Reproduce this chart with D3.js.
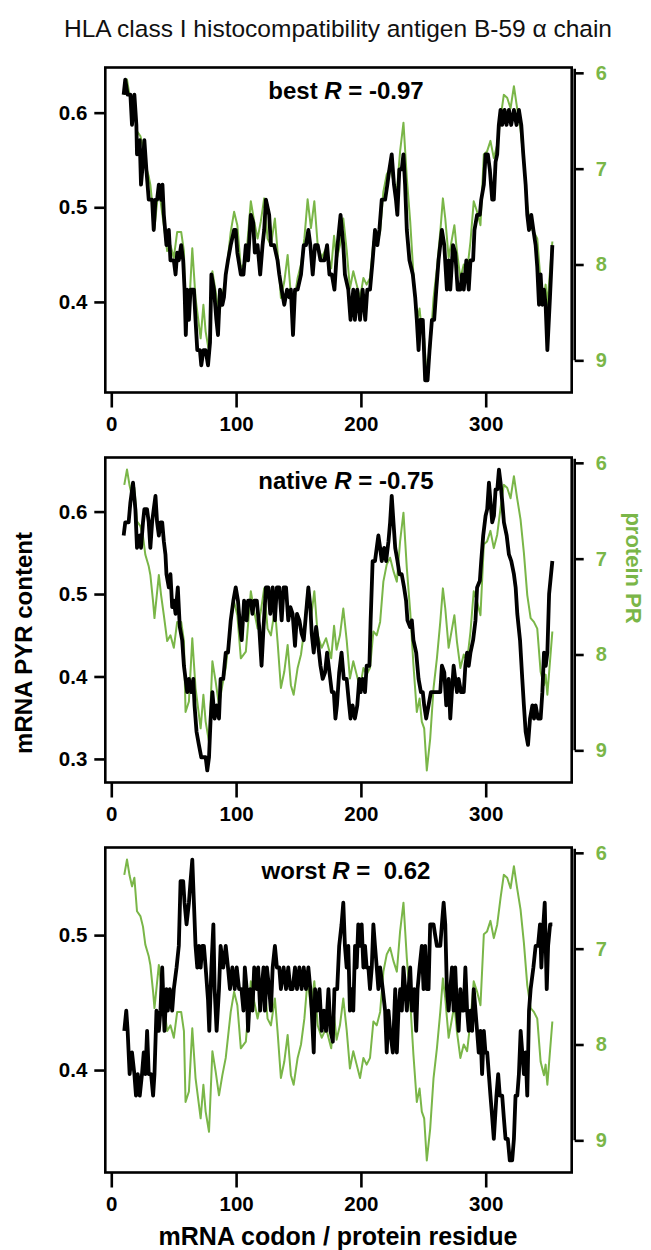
<!DOCTYPE html>
<html><head><meta charset="utf-8">
<script src="https://cdn.jsdelivr.net/npm/d3@7"></script>
<style>body{margin:0;background:#fff}svg{display:block}</style>
</head><body><svg id="chart" width="651" height="1250"></svg>
<script>
// ---------------- data ----------------
const title = "HLA class I histocompatibility antigen B-59 \u03b1 chain";
const xTicks = [0, 100, 200, 300];
const prTicks = [6, 7, 8, 9];
const panelNames = ["best", "native", "worst"];
const panelR = ["-0.97", "-0.75", " 0.62"];
const pyrTicks = [[0.4, 0.5, 0.6], [0.3, 0.4, 0.5, 0.6], [0.4, 0.5]];
const xDomain = [-4.8, 368.9];

// protein PR (same in all panels)
const protRes = [10.4,12.6,14.7,16.6,18.5,20.6,23.3,25.4,27.3,30,31.3,33.5,34.6,38.1,39.9,42.1,44.8,47.4,50.1,52.8,56,58.2,59.5,62.2,64.9,67.5,71.6,73.8,75.6,78.3,81,83.6,86.3,89,91.7,95.7,98.4,101,103.8,107.8,111.8,114.5,117.2,119.8,122.5,125.2,127.9,131.1,133.2,135.9,138.6,141.3,143.9,146.1,149.3,152,154.7,157.3,160,162.7,165.4,168.6,172.1,176.2,178.5,180.5,183.2,185.9,188.6,191.2,193.9,196.6,199.3,202,204.6,207.3,210,212.7,215.4,218,220.7,223.4,226.1,228.8,231.4,234.1,236.8,239.5,242.1,244.8,247,248.8,250.7,252.8,255.5,258.2,260.9,263.6,265.7,267.6,270.3,273,274.9,277,279.7,282.4,285.1,287.8,290.4,293.1,295.8,298.5,301.1,303.8,306.5,309.2,311.9,314.5,317.2,319.9,322.6,325.2,327.9,330.6,333.3,336,338.6,341.3,344,346.7,348,349.4,353.4];
const protPR = [6.23,6.07,6.24,6.35,6.26,6.61,6.66,6.77,6.96,7.08,7.17,7.45,7.62,7.17,7.38,7.59,7.86,7.80,7.93,7.66,7.66,7.86,8.60,8.49,7.83,8.35,8.77,8.42,8.70,8.91,8.07,8.28,8.53,8.32,8.14,7.66,7.45,7.59,8.04,7.97,7.34,7.55,7.73,7.55,7.31,7.73,7.80,7.52,7.86,8.35,8.18,7.90,8.32,8.42,8.14,8.00,7.73,7.32,7.62,7.34,7.80,7.93,7.83,8.04,7.70,7.95,7.80,7.52,7.85,8.25,8.07,8.21,8.35,8.14,8.21,8.14,7.76,7.80,7.66,7.24,7.06,6.99,7.13,7.24,6.82,6.52,7.10,7.55,8.11,8.60,8.46,8.70,8.77,9.21,8.88,8.35,8.04,7.66,7.31,7.52,7.93,7.73,7.59,7.87,8.14,8.00,8.07,7.76,7.34,7.45,7.59,6.85,6.82,6.71,6.89,6.75,6.47,6.23,6.26,6.37,6.14,6.37,6.59,6.94,7.38,7.62,7.66,7.73,8.18,8.32,8.21,8.42,7.76];

// mRNA PYR content, best codon choice
const bestRes = [9.9,11.2,13.1,15.3,16.6,18.5,20.1,20.6,22.8,23.8,25.4,26.5,28.1,30,32.7,34,35.4,36.7,38.1,39.9,41,42.1,44.2,46.1,47.4,50.1,51.5,52.8,54.1,56,57.6,58.7,59.7,60.8,62.2,63.5,66.2,67.5,68.9,71,72.1,73.8,75.6,77.5,79.1,80.2,82.3,84.2,85.5,87.1,89,90.3,91.7,93.5,95.7,98.4,99.7,101,103.8,105.9,107.8,109.6,111.8,113.7,115,117.2,119.3,121.2,122.5,123.9,126.5,127.9,130.5,133.2,134.6,136.5,138.6,140.8,142.6,143.9,145.6,147.2,149.3,152,154.2,156,157.9,159.5,161.4,163.3,165.4,167.6,170.8,172.9,174.8,176.7,178.8,180.7,183.7,185.9,187.2,189.9,191.7,193.9,195.2,197.1,199.3,201.4,203.5,205.1,207.3,209.4,211.3,213.2,214.8,216.7,219.4,221.2,222.8,224.7,226.5,228.1,229.2,230.8,232.7,234.1,235.4,236.8,238.9,241.6,243.5,244.8,246.2,247.5,249.6,251.5,253.4,255,256.9,258.7,260.4,262.2,264.9,266.8,268.9,270.3,271.6,273.8,275.6,277.5,279.7,281,282.4,284.5,286.4,287.8,289.9,291,293.1,295.3,296.4,298.5,299.9,301.7,303.3,305.2,306.5,307.9,309.2,310.5,311.9,313.2,315.1,316.7,318.6,320.4,322.6,324.7,326.6,328.5,330.1,332,333.3,334.7,336.5,338.2,340,341.3,342.7,344,345.3,346.7,348,349.4,351.5,353.4];
const bestPYR = [0.619,0.635,0.619,0.619,0.587,0.619,0.587,0.556,0.571,0.524,0.548,0.571,0.540,0.508,0.508,0.476,0.508,0.508,0.524,0.508,0.524,0.492,0.460,0.476,0.444,0.444,0.429,0.452,0.444,0.460,0.444,0.413,0.365,0.413,0.381,0.413,0.413,0.381,0.349,0.349,0.333,0.349,0.349,0.333,0.357,0.429,0.413,0.381,0.365,0.413,0.397,0.405,0.429,0.444,0.460,0.476,0.476,0.452,0.429,0.429,0.460,0.444,0.492,0.484,0.452,0.460,0.429,0.460,0.476,0.508,0.492,0.460,0.460,0.444,0.429,0.413,0.397,0.413,0.405,0.413,0.365,0.413,0.413,0.429,0.460,0.460,0.476,0.460,0.429,0.460,0.460,0.444,0.444,0.460,0.429,0.429,0.413,0.452,0.492,0.460,0.429,0.413,0.381,0.413,0.381,0.413,0.381,0.413,0.381,0.413,0.413,0.444,0.476,0.460,0.476,0.508,0.508,0.524,0.540,0.556,0.524,0.508,0.492,0.540,0.540,0.556,0.524,0.476,0.444,0.429,0.405,0.381,0.349,0.381,0.381,0.317,0.317,0.349,0.381,0.381,0.413,0.444,0.476,0.460,0.413,0.444,0.413,0.460,0.452,0.413,0.413,0.429,0.413,0.444,0.413,0.444,0.444,0.476,0.492,0.492,0.508,0.524,0.556,0.556,0.540,0.508,0.508,0.548,0.556,0.587,0.603,0.587,0.603,0.587,0.603,0.587,0.603,0.587,0.603,0.587,0.556,0.524,0.492,0.476,0.492,0.476,0.460,0.437,0.397,0.429,0.397,0.413,0.397,0.349,0.405,0.460];

// mRNA PYR content, native codons
const nativeRes = [9.9,11.2,13.9,15.3,17.4,19.3,20.6,22.8,23.8,25.4,26.5,28.6,30,31.3,32.7,34,35.4,36.7,38.1,39.4,40.8,42.1,43.4,44.2,46.1,47.4,48.8,50.1,51.5,53.3,54.9,56.8,58.2,59.5,60.8,62.2,64,65.7,66.7,68.3,70.2,72.1,74.2,75.6,76.9,78.3,79.6,81,82.8,84.4,86.3,87.6,89.7,91.7,93.5,95.7,97.8,99.7,101.5,103.2,104.5,106.4,108.5,109.6,111.8,113.1,114.5,116.6,118.5,120.4,122,123.9,125.8,127.4,129.3,131.1,132.7,134.6,136.5,138.1,140,141.8,143.5,145.3,147.2,148.8,150.7,152.5,154.2,156,157.9,159.5,160.6,162.2,164.1,165.4,167.6,169.4,171.3,172.9,174.8,176.7,178.3,179.6,180.8,182.6,184.5,186.3,188.6,190.6,191.7,193.3,195.2,197.1,198.7,199.8,201.4,203.3,204.6,206.8,207.8,209.4,211.3,212.7,214,215.4,216.7,218.6,220.2,222.1,223.4,224.7,226.1,227.5,229.3,230.9,232.7,234.6,236.2,237.3,239.4,240.8,242.1,244.3,246.2,248.1,249.6,250.7,252.3,254.2,256.1,258.2,260.9,263.6,264.9,266.8,268.4,270.3,271.6,272.9,274.3,275.6,277,278.3,280.2,282.4,283.7,285.1,286.4,287.8,289.9,291.8,293.1,295.3,296.4,298,299.9,301.2,302.6,303.9,305.2,306.6,307.9,309.3,310.6,311.9,313.3,314.6,316.8,318.6,320.5,322.6,324,325.3,327.5,329.3,330.6,332,333.9,335.5,337.4,338.7,340,341.9,344,345.4,346.7,348.1,349.4,350.8,353.4];
const nativePYR = [0.571,0.587,0.587,0.611,0.635,0.603,0.556,0.571,0.556,0.587,0.603,0.603,0.587,0.556,0.587,0.603,0.619,0.587,0.571,0.587,0.587,0.564,0.548,0.524,0.508,0.524,0.484,0.492,0.476,0.508,0.460,0.444,0.413,0.397,0.381,0.397,0.381,0.397,0.365,0.333,0.317,0.302,0.302,0.302,0.286,0.302,0.349,0.381,0.349,0.365,0.349,0.397,0.397,0.429,0.429,0.468,0.492,0.508,0.492,0.460,0.444,0.492,0.468,0.492,0.492,0.476,0.492,0.492,0.460,0.413,0.460,0.508,0.508,0.476,0.508,0.468,0.508,0.508,0.468,0.508,0.508,0.468,0.484,0.476,0.437,0.476,0.468,0.452,0.444,0.476,0.508,0.484,0.452,0.429,0.460,0.444,0.413,0.397,0.405,0.429,0.405,0.381,0.381,0.349,0.365,0.405,0.429,0.397,0.397,0.365,0.349,0.365,0.349,0.365,0.397,0.381,0.397,0.381,0.413,0.413,0.468,0.540,0.540,0.556,0.571,0.556,0.540,0.556,0.540,0.564,0.587,0.619,0.587,0.556,0.540,0.524,0.524,0.508,0.492,0.468,0.460,0.468,0.444,0.429,0.397,0.381,0.381,0.365,0.349,0.365,0.381,0.381,0.381,0.381,0.413,0.405,0.365,0.397,0.349,0.381,0.413,0.397,0.381,0.397,0.381,0.381,0.413,0.429,0.413,0.429,0.444,0.468,0.508,0.516,0.540,0.571,0.595,0.603,0.635,0.611,0.587,0.595,0.627,0.627,0.651,0.635,0.611,0.587,0.571,0.548,0.540,0.524,0.508,0.476,0.444,0.397,0.365,0.333,0.317,0.349,0.365,0.349,0.365,0.349,0.349,0.381,0.429,0.413,0.429,0.500,0.540];

// mRNA PYR content, worst codon choice
const worstRes = [10.4,12,13.1,14.7,16.6,18.5,19.8,21.2,22.8,24.6,26,27.3,28.7,30,31.9,33.5,34.6,36.2,38.1,39.4,40.8,42.6,44.2,45.3,46.9,48.8,50.1,52.3,54.1,55.5,57.6,58.7,60.3,62.2,63.5,64.9,66.2,67.5,68.9,70.2,71.6,72.9,74.2,75.6,77.5,78.5,80.2,81.8,82.8,84.4,86.3,87.6,89.7,91.7,93.5,95.1,97,98.9,100.5,102.4,104.3,105.9,107,108.5,109.6,111.3,113.1,114.5,116.6,117.7,119.3,120.4,122,123.1,124.7,126.5,127.9,129.3,131.1,132.7,134.6,135.9,138.1,140,141.8,143.5,145.3,147.2,148.8,150.7,152.5,154.2,156,157.9,159.5,160.6,162.2,163.3,164.9,166.8,168.6,170.3,172.1,174,175.6,177.5,178.8,181,182.6,184.5,185.9,187.2,188.6,189.9,191.2,192.6,193.9,195.3,196.6,197.9,199.3,200.6,202,203.3,204.6,206,207.3,208.7,210,211.3,212.7,214,215.4,217.5,219.4,220.7,222.1,223.4,225.6,227.5,228.8,230.1,231.5,232.8,234.1,235.5,236.8,238.1,239.5,240.8,242.7,244.3,245.4,247,248.8,250.2,251.5,252.8,254.2,255.5,256.9,258.2,259.5,260.9,263.6,264.9,266.3,267.6,268.9,270.3,271.6,273,274.3,275.6,277,278.3,279.7,281,282.4,283.7,285.1,286.4,287.8,289.1,290.4,291.8,293.1,294.4,295.8,297.1,298.5,299.8,301.2,302.5,303.8,305.2,306.5,308.6,310,311.3,313.2,314.5,315.9,317.7,319.3,321.2,322.6,323.9,325.3,326.6,328,329.3,330.6,332,333.3,334.7,336,338.2,340,341.9,343.5,344.6,346.2,347.3,348.9,350,351.6,353.4];
const worstPYR = [0.429,0.444,0.429,0.397,0.413,0.397,0.381,0.397,0.381,0.397,0.413,0.397,0.429,0.397,0.397,0.381,0.397,0.444,0.429,0.444,0.476,0.429,0.460,0.444,0.460,0.444,0.460,0.476,0.492,0.540,0.540,0.524,0.508,0.524,0.540,0.556,0.524,0.492,0.476,0.492,0.476,0.492,0.492,0.476,0.452,0.429,0.476,0.508,0.460,0.429,0.460,0.492,0.476,0.492,0.476,0.460,0.476,0.460,0.476,0.460,0.460,0.444,0.476,0.460,0.429,0.460,0.444,0.476,0.460,0.476,0.444,0.460,0.476,0.444,0.476,0.460,0.444,0.476,0.492,0.476,0.476,0.460,0.476,0.460,0.476,0.460,0.460,0.476,0.460,0.476,0.460,0.476,0.460,0.476,0.460,0.444,0.413,0.460,0.444,0.460,0.429,0.444,0.429,0.460,0.429,0.421,0.460,0.460,0.492,0.508,0.524,0.492,0.476,0.492,0.444,0.460,0.444,0.492,0.476,0.508,0.492,0.508,0.476,0.492,0.476,0.476,0.460,0.476,0.508,0.492,0.476,0.460,0.476,0.460,0.444,0.413,0.444,0.429,0.413,0.460,0.413,0.444,0.460,0.444,0.476,0.460,0.444,0.460,0.476,0.444,0.460,0.429,0.460,0.476,0.492,0.460,0.492,0.460,0.460,0.508,0.508,0.508,0.500,0.492,0.492,0.508,0.524,0.508,0.460,0.444,0.460,0.476,0.444,0.476,0.444,0.429,0.460,0.444,0.444,0.476,0.444,0.429,0.444,0.429,0.460,0.444,0.429,0.413,0.429,0.397,0.429,0.413,0.413,0.397,0.381,0.365,0.349,0.381,0.397,0.381,0.381,0.365,0.349,0.349,0.333,0.333,0.349,0.381,0.381,0.397,0.429,0.413,0.397,0.413,0.381,0.444,0.460,0.476,0.492,0.492,0.508,0.476,0.508,0.524,0.460,0.492,0.508,0.508];

const resSeries = [bestRes, nativeRes, worstRes];
const pyrSeries = [bestPYR, nativePYR, worstPYR];

// ---------------- drawing ----------------
const svg = d3.select("#chart");
const FONT = "'Liberation Sans', Arial, Helvetica, sans-serif";
const GREEN = "#7ab648";
const left = 105.3, right = 571.7;
const panelTops = [67.5, 457.5, 847.5];
const panelH = 325;

svg.append("text").attr("x", 338).attr("y", 37).attr("text-anchor", "middle")
  .attr("font-family", FONT).attr("font-size", 24.5).attr("fill", "#111").text(title);

const x = d3.scaleLinear().domain(xDomain).range([left, right]);

function padExt(arr) {
  const e = d3.extent(arr); const p = (e[1] - e[0]) * 0.04;
  return [e[0] - p, e[1] + p];
}
const prDom = padExt(protPR);

panelNames.forEach((name, i) => {
  const top = panelTops[i], bottom = top + panelH;
  const g = svg.append("g");
  const yL = d3.scaleLinear().domain(padExt(pyrSeries[i])).range([bottom, top]);
  const yR = d3.scaleLinear().domain(prDom).range([top, bottom]);

  // green protein line
  const gl = d3.line().x(d => x(d[0])).y(d => yR(d[1])).curve(d3.curveLinear);
  g.append("path").datum(d3.zip(protRes, protPR)).attr("d", gl)
    .attr("fill", "none").attr("stroke", GREEN).attr("stroke-width", 2).attr("stroke-linejoin", "round");
  // black mRNA line
  const bl = d3.line().x(d => x(d[0])).y(d => yL(d[1]));
  g.append("path").datum(d3.zip(resSeries[i], pyrSeries[i])).attr("d", bl)
    .attr("fill", "none").attr("stroke", "#000").attr("stroke-width", 3.8).attr("stroke-linejoin", "round");

  // box
  g.append("rect").attr("x", left).attr("y", top).attr("width", right - left).attr("height", panelH)
    .attr("fill", "none").attr("stroke", "#000").attr("stroke-width", 2.6);

  // left axis
  const la = g.append("g").attr("transform", `translate(${left},0)`)
    .call(d3.axisLeft(yL).tickValues(pyrTicks[i]).tickSize(11).tickPadding(7).tickFormat(d3.format(".1f")));
  la.select(".domain").remove();
  la.selectAll("line").attr("stroke-width", 2.6);
  la.selectAll("text").attr("font-family", FONT).attr("font-size", 20.5).attr("font-weight", "bold").attr("fill", "#000");

  // right axis
  const ra = g.append("g").attr("transform", `translate(${right + 3},0)`)
    .call(d3.axisRight(yR).tickValues(prTicks).tickSize(9).tickPadding(12).tickFormat(d3.format("d")));
  ra.select(".domain").attr("d", `M0,${yR(prTicks[0]) - 4}V${yR(prTicks[prTicks.length - 1])}`).attr("stroke-width", 2.6);
  ra.selectAll("line").attr("stroke-width", 2.6);
  ra.selectAll("text").attr("font-family", FONT).attr("font-size", 20).attr("font-weight", "bold").attr("fill", GREEN);

  // bottom axis
  const ba = g.append("g").attr("transform", `translate(0,${bottom})`)
    .call(d3.axisBottom(x).tickValues(xTicks).tickSize(15).tickPadding(9));
  ba.select(".domain").remove();
  ba.selectAll("line").attr("stroke-width", 2.6);
  ba.selectAll("text").attr("font-family", FONT).attr("font-size", 20.5).attr("font-weight", "bold").attr("fill", "#000");

  // panel label
  const t = g.append("text").attr("x", 346).attr("y", top + 31).attr("text-anchor", "middle")
    .attr("font-family", FONT).attr("font-size", 24).attr("font-weight", "bold").attr("fill", "#000")
    .attr("xml:space", "preserve");
  t.append("tspan").text(name + " ");
  t.append("tspan").attr("font-style", "italic").text("R");
  t.append("tspan").text(" =" + (panelR[i].startsWith(" ") ? "\u00a0 " + panelR[i].trim() : " " + panelR[i]));
});

// axis titles
svg.append("text").attr("transform", "translate(32,643) rotate(-90)").attr("text-anchor", "middle")
  .attr("font-family", FONT).attr("font-size", 24).attr("font-weight", "bold").text("mRNA PYR content");
svg.append("text").attr("transform", "translate(626,568) rotate(90)").attr("text-anchor", "middle")
  .attr("font-family", FONT).attr("font-size", 22).attr("font-weight", "bold").attr("fill", GREEN).text("protein PR");
svg.append("text").attr("x", 338).attr("y", 1245).attr("text-anchor", "middle")
  .attr("font-family", FONT).attr("font-size", 25).attr("font-weight", "bold").text("mRNA codon / protein residue");
</script></body></html>
